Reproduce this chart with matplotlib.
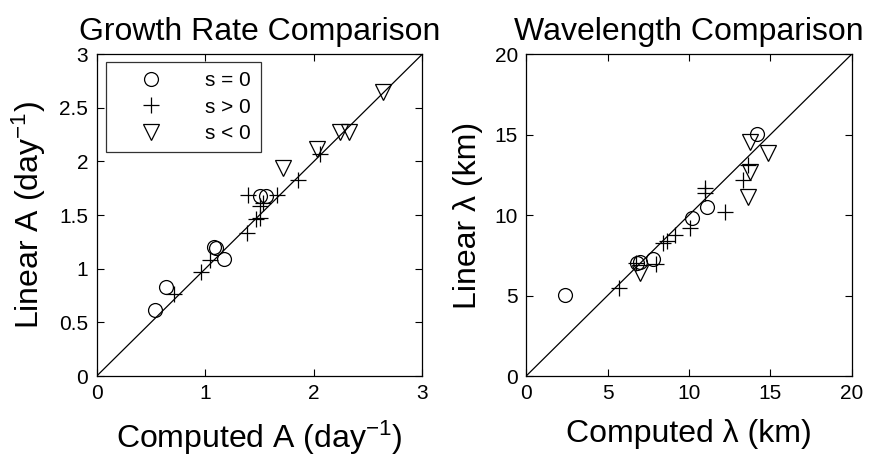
import matplotlib
matplotlib.use("Agg")
import matplotlib.pyplot as plt

plt.rcParams['font.family'] = ['Liberation Sans', 'DejaVu Sans']
plt.rcParams['mathtext.fontset'] = 'custom'
plt.rcParams['mathtext.rm'] = 'Liberation Sans'
plt.rcParams['mathtext.it'] = 'Liberation Sans'

# growth rate (day^-1): computed vs linear
a_zero_x = [0.54, 0.64, 1.08, 1.10, 1.17, 1.50, 1.56]
a_zero_y = [0.62, 0.83, 1.20, 1.19, 1.09, 1.68, 1.68]
a_pos_x = [0.71, 0.96, 1.04, 1.38, 1.39, 1.47, 1.50, 1.50, 1.53, 1.66, 1.85, 2.06]
a_pos_y = [0.76, 0.97, 1.08, 1.33, 1.69, 1.46, 1.47, 1.58, 1.61, 1.69, 1.83, 2.07]
a_neg_x = [1.72, 2.03, 2.24, 2.32, 2.64]
a_neg_y = [1.94, 2.12, 2.27, 2.27, 2.65]

# wavelength (km): computed vs linear
l_zero_x = [2.39, 6.79, 6.99, 7.81, 10.16, 11.08, 14.15]
l_zero_y = [5.02, 7.05, 7.10, 7.30, 9.81, 10.47, 15.06]
l_pos_x = [5.71, 6.75, 7.98, 8.42, 8.63, 9.14, 10.06, 10.98, 10.98, 12.21, 13.33, 13.64]
l_pos_y = [5.46, 7.05, 6.98, 8.27, 8.38, 8.79, 9.20, 11.40, 11.65, 10.17, 12.19, 13.10]
l_neg_x = [6.99, 13.60, 13.74, 13.74, 14.87]
l_neg_y = [6.42, 11.15, 12.70, 14.55, 13.83]

fig = plt.figure(figsize=(8.71, 4.62), dpi=100)
ax1 = fig.add_axes([0.111, 0.186, 0.374, 0.697])
ax2 = fig.add_axes([0.604, 0.186, 0.374, 0.697])

mk = dict(linestyle='none', color='black', markerfacecolor='none',
          markeredgewidth=0.9)

def panel(ax, zx, zy, px, py, nx, ny, lim, ticks):
    ax.plot([0, lim], [0, lim], color='black', lw=0.9)
    ax.plot(zx, zy, marker='o', markersize=10, label='s = 0', **mk)
    ax.plot(px, py, marker='+', markersize=12, label='s > 0', **mk)
    ax.plot(nx, ny, marker='v', markersize=11, label='s < 0', **mk)
    ax.set_xlim(0, lim)
    ax.set_ylim(0, lim)
    ax.set_xticks(ticks)
    ax.set_yticks(ticks)
    ax.tick_params(direction='in', top=True, right=True, labelsize=15,
                   length=5, width=0.8, pad=6)
    for s in ax.spines.values():
        s.set_linewidth(0.9)

panel(ax1, a_zero_x, a_zero_y, a_pos_x, a_pos_y, a_neg_x, a_neg_y,
      3, [0, 0.5, 1, 1.5, 2, 2.5, 3])
ax1.set_xticks([0, 1, 2, 3])
ax1.set_yticklabels(['0', '0.5', '1', '1.5', '2', '2.5', '3'])
ax1.set_title('Growth Rate Comparison', fontsize=23, pad=10)
ax1.set_xlabel(r'Computed A (day$^{-1}$)', fontsize=23, labelpad=11)
ax1.set_ylabel(r'Linear A (day$^{-1}$)', fontsize=23, labelpad=8)
leg = ax1.legend(loc='upper left', fontsize=15, frameon=True, fancybox=False,
                 edgecolor='black', borderpad=0.45, labelspacing=0.35,
                 handlelength=3.4, handletextpad=0.9,
                 bbox_to_anchor=(0.03, 0.975), borderaxespad=0)
leg.get_frame().set_linewidth(0.9)
for h in leg.legend_handles:
    h.set_linestyle('none')

panel(ax2, l_zero_x, l_zero_y, l_pos_x, l_pos_y, l_neg_x, l_neg_y,
      20, [0, 5, 10, 15, 20])
ax2.set_title('Wavelength Comparison', fontsize=23, pad=10)
ax2.set_xlabel('Computed λ (km)', fontsize=23, labelpad=11)
ax2.set_ylabel('Linear λ (km)', fontsize=23, labelpad=8)

fig.savefig('out.png', dpi=100)
